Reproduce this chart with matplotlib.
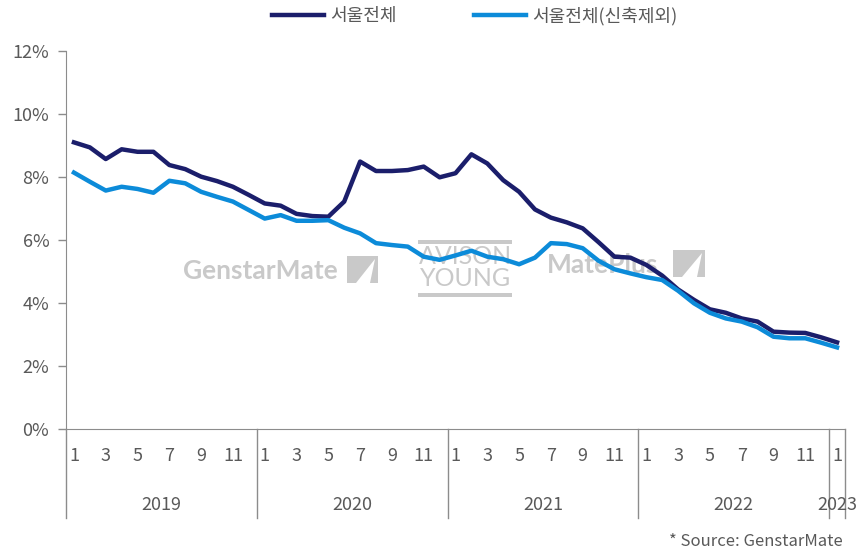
import matplotlib
matplotlib.use("Agg")
import matplotlib.pyplot as plt
import matplotlib.transforms as mtransforms
from matplotlib.patches import Rectangle, Polygon
import numpy as np

plt.rcParams['font.family'] = ['Noto Sans CJK KR', 'DejaVu Sans']

# monthly data, Jan 2019 .. Jan 2023 (%)
seoul_all = [9.10, 8.94, 8.57, 8.88, 8.80, 8.80, 8.38, 8.25, 8.01, 7.87, 7.69, 7.43,
             7.16, 7.09, 6.83, 6.76, 6.74, 7.22, 8.49, 8.19, 8.19, 8.22, 8.33, 7.99,
             8.12, 8.72, 8.43, 7.90, 7.53, 6.97, 6.71, 6.56, 6.37, 5.93, 5.47, 5.44,
             5.21, 4.87, 4.43, 4.10, 3.80, 3.69, 3.51, 3.41, 3.09, 3.06, 3.05, 2.91,
             2.75]
seoul_excl_new = [8.14, 7.85, 7.57, 7.69, 7.62, 7.50, 7.88, 7.80, 7.53, 7.37, 7.22, 6.95,
                  6.68, 6.79, 6.61, 6.61, 6.63, 6.39, 6.21, 5.90, 5.84, 5.79, 5.47, 5.37,
                  5.51, 5.66, 5.47, 5.39, 5.23, 5.44, 5.90, 5.87, 5.74, 5.34, 5.07, 4.94,
                  4.82, 4.73, 4.39, 3.99, 3.69, 3.51, 3.41, 3.23, 2.93, 2.88, 2.88, 2.74,
                  2.59]
years = ['2019', '2020', '2021', '2022', '2023']
months_per_year = [12, 12, 12, 12, 1]
month_ticks = [1, 3, 5, 7, 9, 11]

W, H = 858, 554
fig = plt.figure(figsize=(W / 100, H / 100), dpi=100)
ax = fig.add_axes([66 / W, 1 - 429 / H, (845 - 66) / W, (429 - 51) / H])
ax.patch.set_visible(False)

grey = '#595959'
axis_col = '#8c8c8c'
x = np.arange(len(seoul_all))

ax.plot(x, seoul_all, color='#1b1e6b', lw=3.2, label='서울전체', zorder=3, solid_joinstyle='round')
ax.plot(x, seoul_excl_new, color='#0c8bd9', lw=3.2, label='서울전체(신축제외)', zorder=3, solid_joinstyle='round')

ax.set_xlim(-0.5, len(x) - 0.5)
ax.set_ylim(0, 12)
ax.set_yticks(np.arange(0, 13, 2))
ax.set_yticklabels([f'{v}%' for v in range(0, 13, 2)])
ax.tick_params(axis='y', length=6, width=1, color=axis_col, labelcolor=grey, labelsize=13, pad=6)

for s in ['top', 'right']:
    ax.spines[s].set_visible(False)
ax.spines['left'].set_color(axis_col)
ax.spines['bottom'].set_color(axis_col)

# month tick labels
tick_pos, tick_lab = [], []
start = 0
for n in months_per_year:
    for m in month_ticks:
        if m <= n:
            tick_pos.append(start + m - 1)
            tick_lab.append(str(m))
    start += n
ax.set_xticks(tick_pos)
ax.set_xticklabels(tick_lab)
ax.tick_params(axis='x', length=0, labelcolor=grey, labelsize=13, pad=13)

# year group labels and separators
trans = mtransforms.blended_transform_factory(ax.transData, ax.transAxes)
bounds = [-0.5]
start = 0
for yr, n in zip(years, months_per_year):
    ax.text(start + (n - 1) / 2, -0.2, yr, transform=trans, ha='center', va='center',
            color=grey, fontsize=13)
    start += n
    bounds.append(start - 0.5)
for b in bounds:
    ax.plot([b, b], [0, -0.235], transform=trans, color=axis_col, lw=1, clip_on=False)

# watermarks
def fx(px):
    return px / W

def fy(py):
    return 1 - py / H

wm = '#c9c9c9'
ft = fig.transFigure
ax.text(fx(183), fy(271), 'GenstarMate', transform=ft, color=wm, fontsize=19,
        family='Lato', fontweight='bold', va='center', ha='left', zorder=1)
ax.text(fx(547), fy(265), 'MatePlus', transform=ft, color=wm, fontsize=19,
        family='Lato', fontweight='bold', va='center', ha='left', zorder=1)
for (x0, y0, x1, y1) in [(347, 256, 378, 283), (673, 250, 705, 277)]:
    ax.add_patch(Rectangle((fx(x0), fy(y1)), fx(x1) - fx(x0), fy(y0) - fy(y1),
                           transform=ft, color=wm, lw=0, zorder=1))
    ax.add_patch(Polygon([(fx(x0 + 9), fy(y1)), (fx(x1 - 3), fy(y0 + 3)), (fx(x1 - 8), fy(y1))],
                         closed=True, transform=ft, color='white', lw=0, zorder=1.1))
ax.add_patch(Rectangle((fx(418), fy(244)), fx(512) - fx(418), fy(240) - fy(244),
                       transform=ft, color=wm, lw=0, zorder=1))
ax.add_patch(Rectangle((fx(418), fy(297)), fx(512) - fx(418), fy(293) - fy(297),
                       transform=ft, color=wm, lw=0, zorder=1))
ax.text(fx(465), fy(256), 'AVISON', transform=ft, color=wm, fontsize=18,
        family='Lato', va='center', ha='center', zorder=1)
ax.text(fx(465), fy(279), 'YOUNG', transform=ft, color=wm, fontsize=18,
        family='Lato', va='center', ha='center', zorder=1)

ax.set_xlim(-0.5, len(x) - 0.5)
ax.set_ylim(0, 12)

fig.legend(loc='center', bbox_to_anchor=(0.553, 0.971), ncol=2, frameon=False,
           fontsize=13, handlelength=2.9, columnspacing=4.3, handletextpad=0.3,
           labelcolor=grey)

fig.text(843 / W, 1 - 541 / H, '* Source: GenstarMate', ha='right', va='center',
         color=grey, fontsize=12)

fig.savefig('out.png', dpi=100)
